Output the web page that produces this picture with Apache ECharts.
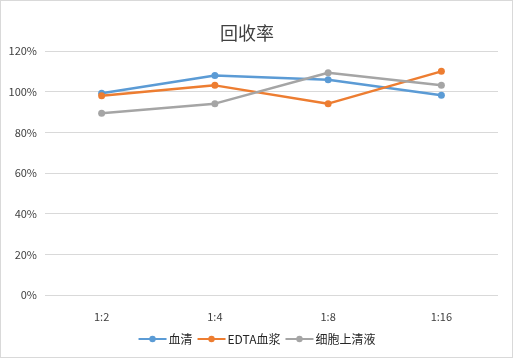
<!DOCTYPE html>
<html><head><meta charset="utf-8">
<script src="https://cdn.jsdelivr.net/npm/echarts@6/dist/echarts.min.js"></script>
<style>html,body{margin:0;padding:0;background:#fff}#c{width:511px;height:356px;border:1px solid #d9d9d9}</style>
</head><body><div id="c"></div>
<script>
const categories = ['1:2','1:4','1:8','1:16'];
const serum = [99.2, 108.0, 105.9, 98.2];
const edtaPlasma = [98.0, 103.1, 94.1, 110.0];
const cellSupernatant = [89.4, 94.1, 109.3, 103.1];
const seriesNames = ['血清','EDTA血浆','细胞上清液'];
const colors = ['#5b9bd5','#ed7d31','#a5a5a5'];
const font = '"Microsoft YaHei","Noto Sans CJK SC",sans-serif';
const chart = echarts.init(document.getElementById('c'));
const mk = (name, data, i) => ({
  name, type:'line', data, symbol:'circle', symbolSize:7,
  itemStyle:{color:colors[i]}, lineStyle:{color:colors[i], width:2.5}
});
chart.setOption({
  animation:false,
  title:{text:'回收率', left:214, top:18, textStyle:{fontFamily:font, fontSize:18, fontWeight:'normal', color:'#404040'}},
  grid:{left:44, right:14, top:50, bottom:62},
  legend:{bottom:7, left:'center', itemWidth:28, itemHeight:8, itemGap:4,
    textStyle:{fontFamily:font, fontSize:12, color:'#262626', padding:[0,0,0,-3]}, data:seriesNames},
  xAxis:{type:'category', data:categories, boundaryGap:true,
    axisLine:{show:false}, axisTick:{show:false},
    axisLabel:{color:'#404040', fontSize:11, fontFamily:font, margin:16}},
  yAxis:{type:'value', min:0, max:120, interval:20,
    axisLabel:{formatter:'{value}%', color:'#404040', fontSize:11, fontFamily:font, margin:8},
    splitLine:{lineStyle:{color:'#d9d9d9'}}, axisLine:{show:false}, axisTick:{show:false}},
  series:[mk(seriesNames[0], serum, 0), mk(seriesNames[1], edtaPlasma, 1), mk(seriesNames[2], cellSupernatant, 2)]
});
</script></body></html>
